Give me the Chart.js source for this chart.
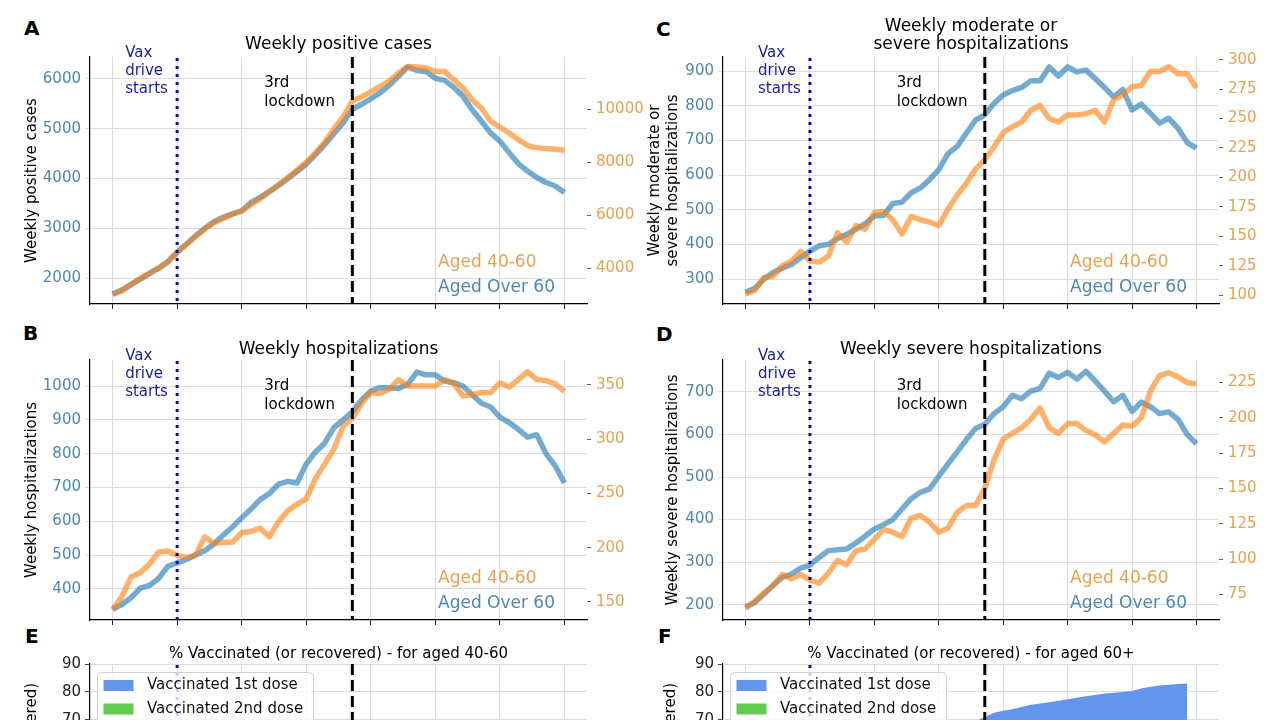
<!DOCTYPE html>
<html>
<head>
<meta charset="utf-8">
<script src="https://cdn.jsdelivr.net/npm/chart.js@4"></script>
<style>
body { margin: 0; width: 1280px; height: 720px; overflow: hidden; background: #fff; position: relative; }
canvas { position: absolute; }
.tag { position: absolute; font-family: "DejaVu Sans", sans-serif; font-weight: 700; font-size: 20px; line-height: 20px; color: #000; }
</style>
</head>
<body>
<div class="tag" style="left:24px;top:18px">A</div>
<div class="tag" style="left:656px;top:19px">C</div>
<div class="tag" style="left:23px;top:323px">B</div>
<div class="tag" style="left:656px;top:324px">D</div>
<div class="tag" style="left:25px;top:626px">E</div>
<div class="tag" style="left:658px;top:626px">F</div>

<canvas id="chartA" width="660" height="318" style="left:0;top:0"></canvas>
<canvas id="chartC" width="640" height="318" style="left:640px;top:0"></canvas>
<canvas id="chartB" width="660" height="328" style="left:0;top:310px"></canvas>
<canvas id="chartD" width="640" height="328" style="left:640px;top:310px"></canvas>
<canvas id="chartE" width="660" height="310" style="left:0;top:620px"></canvas>
<canvas id="chartF" width="640" height="310" style="left:640px;top:620px"></canvas>

<script>
// days (7-day rolling windows)
const DATES = [
  "2020-12-13","2020-12-14","2020-12-15","2020-12-16","2020-12-17","2020-12-18","2020-12-19",
  "2020-12-20","2020-12-21","2020-12-22","2020-12-23","2020-12-24","2020-12-25","2020-12-26",
  "2020-12-27","2020-12-28","2020-12-29","2020-12-30","2020-12-31","2021-01-01","2021-01-02",
  "2021-01-03","2021-01-04","2021-01-05","2021-01-06","2021-01-07","2021-01-08","2021-01-09",
  "2021-01-10","2021-01-11","2021-01-12","2021-01-13","2021-01-14","2021-01-15","2021-01-16",
  "2021-01-17","2021-01-18","2021-01-19","2021-01-20","2021-01-21","2021-01-22","2021-01-23",
  "2021-01-24","2021-01-25","2021-01-26","2021-01-27","2021-01-28","2021-01-29","2021-01-30",
  "2021-01-31"
];
const TICK_DATES = ["2020-12-13","2020-12-20","2020-12-27","2021-01-03","2021-01-10","2021-01-17","2021-01-24","2021-01-31"];
const VAX_START = "2020-12-20";
const LOCKDOWN = "2021-01-08";

// A - weekly positive cases
const CASES_60 = [1680,1760,1870,1980,2090,2200,2330,2520,2680,2850,3000,3130,3220,3290,3350,3520,3620,3740,3860,4000,
  4140,4290,4480,4680,4900,5120,5390,5490,5600,5720,5870,6050,6240,6170,6150,6010,5970,5830,5650,5380,
  5150,4910,4750,4520,4300,4150,4020,3920,3850,3720];
const CASES_40_60 = [3020,3150,3400,3620,3820,4020,4250,4600,4900,5200,5480,5720,5880,6050,6160,6400,6620,6880,7150,7420,
  7700,8000,8350,8750,9250,9700,10300,10450,10650,10850,11050,11350,11600,11580,11550,11400,11420,11100,10790,10350,
  10040,9540,9325,9100,8850,8625,8540,8510,8490,8450];

// B - weekly hospitalizations
const HOSP_60 = [340,354,374,402,410,431,467,477,487,500,513,533,559,583,610,636,664,682,710,718,
  713,769,805,831,877,900,923,959,985,995,995,993,1005,1041,1033,1033,1015,1010,1000,974,
  949,938,908,892,872,849,856,800,764,713];
const HOSP_40_60 = [143,155,173,177,185,196,197,193,191,193,210,204,205,205,214,215,218,210,224,234,
  240,245,264,277,291,312,319,333,343,342,346,355,349,349,349,349,355,351,340,341,
  343,343,352,348,355,362,355,354,351,344];

// C - weekly moderate or severe hospitalizations
const MODSEV_60 = [262,273,300,319,331,343,362,381,396,400,417,429,444,460,482,484,518,522,549,563,
  587,616,662,683,721,759,774,807,831,844,853,872,872,912,886,912,898,903,879,853,
  826,847,788,805,778,750,764,735,694,678];
const MODSEV_40_60 = [101,104,115,116,125,129,137,129,128,133,153,145,159,156,170,171,164,152,167,164,
  162,159,173,185,195,207,215,226,238,243,247,257,261,250,247,253,253,254,257,247,
  266,270,277,278,290,290,294,288,288,276];

// D - weekly severe hospitalizations
const SEVERE_60 = [195,205,225,246,264,272,286,293,311,327,329,331,345,361,378,388,400,425,449,464,
  472,502,531,559,588,614,624,649,665,692,684,702,708,744,734,746,730,748,726,702,
  677,692,654,676,665,649,653,635,600,578];
const SEVERE_40_60 = [65,70,76,81,89,86,89,85,83,90,99,96,106,107,114,121,119,116,129,131,
  126,119,122,133,138,138,150,170,185,189,193,199,207,193,189,196,196,191,188,183,
  189,195,194,200,219,230,232,229,225,224];

// E / F - % vaccinated (or recovered)
const VAX1_40_60 = [7,7,7,7,7,7,7,7.2,7.6,8.2,9,10,11,12.5,14,15.5,17,18.5,20,21.5,
  23,24.5,26,27.5,29,30.5,32,33.5,35,36.5,38,39.5,41,42.5,44,45.5,47,48.5,50,51,
  52,53,54,55,56,57,58,59,60,null];
const VAX2_40_60 = [7,7,7,7,7,7,7,7,7,7,7,7,7,7,7,7,7,7,7,7,
  7,7,7,7,7,7,7,7,8,9,10,11,12.5,14,15.5,17,18.5,20,21.5,23,
  24.5,26,27.5,29,30,31,32,33,34,null];
const VAX1_60 = [8,8,8,8,8,8,8,8.5,12,17,22,27,32,37,42,46,50,53,56,59,
  61,63,65,66.5,68,69.5,71,72.5,73.2,73.8,74.6,75.4,75.8,76.3,76.8,77.4,77.9,78.4,78.9,79.4,
  79.7,80,80.3,81.2,81.8,82.3,82.6,82.8,83,null];
const VAX2_60 = [8,8,8,8,8,8,8,8,8,8,8,8,8,8,8,8,8,8,8,8,
  8,8,8,8,8,8,8,8,10,14,18,22,26,30,33,36,39,42,45,48,
  50,52,54,56,58,60,61.5,63,64,null];

// axis tick labels
const CASES_TICKS = [2000,3000,4000,5000,6000];
const CASES_TICKS_R = [4000,6000,8000,10000];
const HOSP_TICKS = [400,500,600,700,800,900,1000];
const HOSP_TICKS_R = [150,200,250,300,350];
const MODSEV_TICKS = [300,400,500,600,700,800,900];
const MODSEV_TICKS_R = [100,125,150,175,200,225,250,275,300];
const SEVERE_TICKS = [200,300,400,500,600,700];
const SEVERE_TICKS_R = [75,100,125,150,175,200,225];
const PCT_TICKS = [0,10,20,30,40,50,60,70,80,90];

const BLUE_LINE = "rgba(31,119,180,0.62)";
const ORANGE_LINE = "rgba(255,127,14,0.62)";
const BLUE_TXT = "#4d87b3";
const ORANGE_TXT = "#e8a24f";
const GRID = "#dcdcdc";
const FONT = '"DejaVu Sans", sans-serif';

Chart.defaults.font.family = FONT;
Chart.defaults.color = "#000";

const pts = arr => arr.map((v, i) => ({ x: i, y: v }));
const setTicks = vals => s => { s.ticks = vals.map(v => ({ value: v })); };

const markers = {
  id: "markers",
  afterDatasetsDraw(chart, args, opts) {
    const { ctx, chartArea: a, scales: { x } } = chart;
    const vx = x.getPixelForValue(DATES.indexOf(VAX_START));
    const lx = x.getPixelForValue(DATES.indexOf(LOCKDOWN));
    ctx.save();
    ctx.lineWidth = 3;
    ctx.strokeStyle = "#0c0cb4";
    ctx.setLineDash([3, 5]);
    ctx.beginPath(); ctx.moveTo(vx, a.top + 1); ctx.lineTo(vx, a.bottom); ctx.stroke();
    ctx.strokeStyle = "#000";
    ctx.setLineDash([11, 5]);
    ctx.beginPath(); ctx.moveTo(lx, a.top); ctx.lineTo(lx, a.bottom); ctx.stroke();
    ctx.setLineDash([]);
    ctx.textBaseline = "middle";
    ctx.textAlign = "left";
    if (opts.notes) {
      ctx.font = "15px " + FONT;
      ctx.fillStyle = "#1c1ca0";
      ["Vax", "drive", "starts"].forEach((t, k) => ctx.fillText(t, vx - 52, a.top - 4 + k * 18));
      ctx.fillStyle = "#000";
      ["3rd", "lockdown"].forEach((t, k) => ctx.fillText(t, lx - 88, a.top + 26.5 + k * 18.5));
      ctx.font = "17px " + FONT;
      ctx.fillStyle = ORANGE_TXT;
      ctx.fillText("Aged 40-60", a.right - 149, a.bottom - 41);
      ctx.fillStyle = BLUE_TXT;
      ctx.fillText("Aged Over 60", a.right - 149, a.bottom - 16);
    }
    if (opts.legend) {
      const bx = a.left + 7.5, by = a.top + 8.5;
      ctx.fillStyle = "rgba(255,255,255,0.8)";
      ctx.strokeStyle = "#d0d0d0";
      ctx.lineWidth = 1;
      ctx.beginPath(); ctx.roundRect(bx, by, 216, 62, 4); ctx.fill(); ctx.stroke();
      ctx.font = "15px " + FONT;
      opts.legend.forEach((it, k) => {
        const cy = by + 13 + k * 23.5;
        ctx.fillStyle = it.color;
        ctx.fillRect(bx + 6, cy - 5.5, 30, 11);
        ctx.fillStyle = "#111";
        ctx.fillText(it.label, bx + 49.5, cy);
      });
    }
    ctx.restore();
  }
};

function xScale(h) {
  return {
    type: "linear", min: -2.45, max: 51.45,
    afterBuildTicks: setTicks(TICK_DATES.map(d => DATES.indexOf(d))),
    ticks: { display: false },
    grid: { color: GRID, tickColor: "#222", tickLength: 5 },
    border: { color: "#000", width: 1.2 },
    afterFit: s => { s.height = h; }
  };
}

function panel(id, p) {
  new Chart(document.getElementById(id), {
    type: "line",
    data: {
      datasets: [
        { data: pts(p.orange), yAxisID: "y1", borderColor: ORANGE_LINE, borderWidth: 5.5, pointRadius: 0, tension: 0, borderJoinStyle: "round" },
        { data: pts(p.blue), yAxisID: "y", borderColor: BLUE_LINE, borderWidth: 5.5, pointRadius: 0, tension: 0, borderJoinStyle: "round" }
      ]
    },
    options: {
      responsive: false, animation: false, events: [],
      layout: { padding: 0 },
      plugins: {
        legend: { display: false }, tooltip: { enabled: false },
        title: { display: true, text: p.title, fullSize: false, color: "#000",
          font: { size: 17, weight: "normal", lineHeight: 1.04 }, padding: p.titlePad },
        markers: { notes: true }
      },
      scales: {
        x: xScale(p.xh),
        y: {
          position: "left", min: p.yl[0], max: p.yl[1],
          afterBuildTicks: setTicks(p.ticksL),
          ticks: { color: BLUE_TXT, font: { size: 15 }, padding: 4, callback: v => String(v) },
          grid: { color: GRID, tickColor: GRID, tickLength: 5 },
          border: { color: "#000", width: 1.2 },
          title: { display: true, text: p.ylabel, color: "#000", font: { size: 15 }, padding: { top: p.labelPad, bottom: 0 } },
          afterFit: s => { s.width = p.lw; }
        },
        y1: {
          position: "right", min: p.yr[0], max: p.yr[1],
          afterBuildTicks: setTicks(p.ticksR),
          ticks: { color: ORANGE_TXT, font: { size: 15 }, padding: 5, callback: v => String(v) },
          grid: { drawOnChartArea: false, tickColor: "#666", tickLength: 4 },
          border: { display: false },
          afterFit: s => { s.width = p.rw; }
        }
      }
    },
    plugins: [markers]
  });
}

panel("chartA", { title: "Weekly positive cases", titlePad: { top: 36, bottom: 3.3 },
  blue: CASES_60, orange: CASES_40_60, yl: [1480, 6440], yr: [2660, 11960],
  ticksL: CASES_TICKS, ticksR: CASES_TICKS_R, ylabel: "Weekly positive cases", labelPad: 23, lw: 90, rw: 73, xh: 13 });
panel("chartC", { title: ["Weekly moderate or", "severe hospitalizations"], titlePad: { top: 18, bottom: 3.6 },
  blue: MODSEV_60, orange: MODSEV_40_60, yl: [228, 941], yr: [92.4, 302.3],
  ticksL: MODSEV_TICKS, ticksR: MODSEV_TICKS_R, ylabel: ["Weekly moderate or", "severe hospitalizations"], labelPad: 6, lw: 83, rw: 61, xh: 13 });
panel("chartB", { title: "Weekly hospitalizations", titlePad: { top: 31, bottom: 1.3 },
  blue: HOSP_60, orange: HOSP_40_60, yl: [308, 1077], yr: [133.4, 373],
  ticksL: HOSP_TICKS, ticksR: HOSP_TICKS_R, ylabel: "Weekly hospitalizations", labelPad: 23, lw: 90, rw: 73, xh: 18 });
panel("chartD", { title: "Weekly severe hospitalizations", titlePad: { top: 31, bottom: 1.3 },
  blue: SEVERE_60, orange: SEVERE_40_60, yl: [164, 775], yr: [56.8, 241],
  ticksL: SEVERE_TICKS, ticksR: SEVERE_TICKS_R, ylabel: "Weekly severe hospitalizations", labelPad: 24, lw: 83, rw: 61, xh: 18 });

function vaxPanel(id, p) {
  new Chart(document.getElementById(id), {
    type: "line",
    data: {
      datasets: [
        { data: pts(p.dose2), fill: "origin", backgroundColor: "#62cc50", borderWidth: 0, pointRadius: 0, tension: 0 },
        { data: pts(p.dose1), fill: "origin", backgroundColor: "#6495ed", borderWidth: 0, pointRadius: 0, tension: 0 }
      ]
    },
    options: {
      responsive: false, animation: false, events: [],
      layout: { padding: { right: p.rpad } },
      plugins: {
        legend: { display: false }, tooltip: { enabled: false },
        title: { display: true, text: p.title, fullSize: false, color: "#000",
          font: { size: 15, weight: "normal", lineHeight: 1.04 }, padding: { top: 26, bottom: 2.4 } },
        markers: { legend: [{ label: "Vaccinated 1st dose", color: "#6495ed" }, { label: "Vaccinated 2nd dose", color: "#62cc50" }] }
      },
      scales: {
        x: xScale(15),
        y: {
          position: "left", min: 0, max: 90,
          afterBuildTicks: setTicks(PCT_TICKS),
          ticks: { color: "#222", font: { size: 15 }, padding: 4, callback: v => String(v) },
          grid: { color: GRID, tickColor: "#444", tickLength: 5 },
          border: { color: "#000", width: 1.2 },
          title: { display: true, text: "% Vaccinated (or recovered)", color: "#000", font: { size: 15 }, padding: { top: p.labelPad, bottom: 0 } },
          afterFit: s => { s.width = p.lw; }
        }
      }
    },
    plugins: [markers]
  });
}

vaxPanel("chartE", { title: "% Vaccinated (or recovered) - for aged 40-60", dose1: VAX1_40_60, dose2: VAX2_40_60, labelPad: 23, lw: 90, rpad: 73 });
vaxPanel("chartF", { title: "% Vaccinated (or recovered) - for aged 60+", dose1: VAX1_60, dose2: VAX2_60, labelPad: 22, lw: 83, rpad: 61 });
</script>
</body>
</html>
